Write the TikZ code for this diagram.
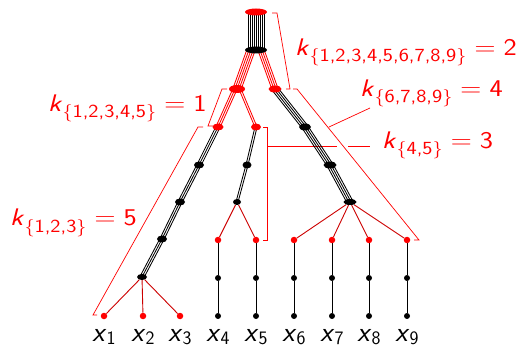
\documentclass[tikz,border=0pt]{standalone}
\usetikzlibrary{calc, shapes.geometric, backgrounds}

% ── Styles ────────────────────────────────────────────────────────────────────
\tikzset{
  bnode/.style={ellipse, fill=black, inner sep=0pt, minimum height=7pt},
  rnode/.style={ellipse, fill=red, inner sep=0pt, minimum height=7pt},
  rleaf/.style={circle, fill=red, inner sep=0pt, minimum size=6.5pt},
  bleaf/.style={circle, fill=black, inner sep=0pt, minimum size=6pt},
  leafedge/.style={red!80!black, line width=0.9pt},
  chainedge/.style={black, line width=0.9pt},
  brack/.style={red, line width=0.7pt},
  klabel/.style={red, anchor=base west, inner sep=0pt, font=\sffamily},
  xname/.style={anchor=base, inner sep=0pt, font=\sffamily\fontsize{28}{32}\selectfont},
}

% k label: sans italic k, lowered brace subscript, = value
\newcommand\klab[2]{\scalebox{1.17}[1]{\fontsize{24}{28}\selectfont
  \textit{k}\raisebox{-6pt}{\fontsize{18.5}{22}\selectfont$\{$#1$\}$}${}={}$#2}}
\newcommand\xlab[1]{\textit{x}\raisebox{-3pt}{\fontsize{19}{22}\selectfont #1}}

% bundle of parallel strands between two points
\def\bgap{2}
\newcommand\drawbundle[4]{% from, to, strands, colour
  \foreach \i in {1,...,#3}{
    \pgfmathsetmacro\off{(\i-(#3+1)/2)*\bgap}
    \draw[#4, line width=0.85pt]
      ($(#1)!\off pt!90:(#2)$) -- ($(#2)!\off pt!-90:(#1)$);
  }}

\begin{document}
\begin{tikzpicture}[x=1pt, y=-1pt]
\useasboundingbox (0,0) rectangle (519,347);

% ── Trunk and split nodes ─────────────────────────────────────────────────────
\node[rnode, minimum width=22pt] (R0) at (256,12) {};
\node[bnode, minimum width=22pt] (N0) at (256,50) {};
\node[rnode, minimum width=16pt, minimum height=8pt] (L5) at (237,89) {};
\node[rnode, minimum width=13pt] (R4) at (275,89) {};
\node[rnode, minimum width=11pt] (L3) at (218,127) {};
\node[rnode, minimum width=10pt] (M2) at (256,127) {};

% left chain (3 strands)
\node[bnode, minimum width=10pt] (La) at (199,165) {};
\node[bnode, minimum width=10pt] (Lb) at (180,202) {};
\node[bnode, minimum width=10pt] (Lc) at (162,239) {};
\node[bnode, minimum width=10pt, minimum height=6pt] (Ld) at (142,277) {};

% middle chain (2 strands)
\node[bnode, minimum width=9pt] (Ma) at (247,165) {};
\node[bnode, minimum width=8pt, minimum height=6pt] (Mb) at (237,202) {};

% right chain (4 strands)
\node[bnode, minimum width=12pt] (Ra) at (305,127) {};
\node[bnode, minimum width=13pt] (Rb) at (330,165) {};
\node[bnode, minimum width=13pt, minimum height=6pt] (Rc) at (350,202) {};

% split points of the bundles
\coordinate (N0l) at ($(N0)+(-5,0)$);
\coordinate (N0r) at ($(N0)+(5,0)$);
\coordinate (L5l) at ($(L5)+(-2,0)$);
\coordinate (L5r) at ($(L5)+(3,0)$);

% ── Leaves ────────────────────────────────────────────────────────────────────
\node[rleaf] (X1) at (104,316) {};
\node[rleaf] (X2) at (143,316) {};
\node[rleaf] (X3) at (180,316) {};
\foreach \n/\x in {4/218, 5/256, 6/294, 7/332, 8/369, 9/407}{
  \node[rleaf] (X\n) at (\x,240) {};
  \node[bleaf] (T\n) at (\x,278) {};
  \node[bleaf] (B\n) at (\x,316) {};
}
\foreach \n/\x in {1/104, 2/143, 3/180, 4/218, 5/256, 6/294, 7/332, 8/369, 9/407}
  \node[xname] (lab\n) at (\x,341) {\xlab{\n}};

% ── Labels ────────────────────────────────────────────────────────────────────
\node[klabel] (kAll)   at (295,56)  {\klab{1,2,3,4,5,6,7,8,9}{2}};
\node[klabel] (kRight) at (360,97)  {\klab{6,7,8,9}{4}};
\node[klabel] (kMid)   at (382,149) {\klab{4,5}{3}};
\node[klabel] (kLeft)  at (48,112)  {\klab{1,2,3,4,5}{1}};
\node[klabel] (kLow)   at (10,226)  {\klab{1,2,3}{5}};

\begin{pgfonlayer}{background}
% ── Brackets ──────────────────────────────────────────────────────────────────
\draw[brack] (272,13) -- (277,13) -- (290,89) -- (286,89);
\draw[brack] (227,89) -- (222,89) -- (208,126) -- (213,126);
\draw[brack] (203,127) -- (198,127) -- (93,315) -- (97,315);
\draw[brack] (263,127) -- (267,127) -- (267,240) -- (263,240);
\draw[brack] (293,89) -- (297,89) -- (419,240) -- (414,240);
% leaders to the labels
\draw[brack] (329,127) -- (370,108);
\draw[brack] (267,146) -- (337,146) (348,146) -- (370,146);

% ── Bundles ───────────────────────────────────────────────────────────────────
\drawbundle{R0}{N0}{9}{black}
\drawbundle{N0l}{L5}{5}{red}
\drawbundle{N0r}{R4}{4}{red}
\drawbundle{L5l}{L3}{3}{red}
\drawbundle{L5r}{M2}{2}{red}
\drawbundle{L3}{La}{3}{black}
\drawbundle{La}{Lb}{3}{black}
\drawbundle{Lb}{Lc}{3}{black}
\drawbundle{Lc}{Ld}{3}{black}
\drawbundle{M2}{Ma}{2}{black}
\drawbundle{Ma}{Mb}{2}{black}
\drawbundle{R4}{Ra}{4}{black}
\drawbundle{Ra}{Rb}{4}{black}
\drawbundle{Rb}{Rc}{4}{black}

% ── Leaf edges ────────────────────────────────────────────────────────────────
\foreach \n in {1,2,3} \draw[leafedge] (Ld) -- (X\n);
\foreach \n in {4,5} \draw[leafedge] (Mb) -- (X\n);
\foreach \n in {6,...,9} \draw[leafedge] (Rc) -- (X\n);
\foreach \n in {4,...,9} \draw[chainedge] (X\n) -- (T\n) -- (B\n);
\end{pgfonlayer}

\end{tikzpicture}
\end{document}
